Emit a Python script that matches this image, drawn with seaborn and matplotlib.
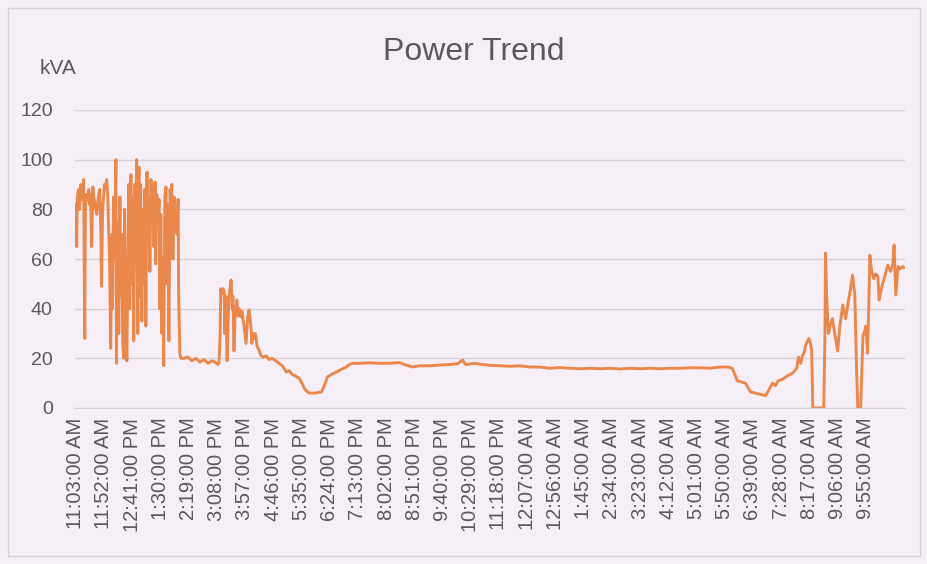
import matplotlib
matplotlib.use("Agg")
import matplotlib.pyplot as plt
import seaborn as sns
import pandas as pd
from matplotlib.patches import Rectangle

# minutes after 11:03:00 AM, and the apparent power read at that minute
minutes = [
    0, 2, 3, 5, 7, 9, 10, 12, 14, 16, 17, 19, 21, 23, 24, 26, 28, 30, 31, 33,
    35, 37, 38, 40, 42, 44, 45, 47, 49, 50, 52, 54, 56, 57, 59, 61, 63, 64, 66, 68,
    70, 71, 73, 75, 77, 78, 80, 82, 84, 85, 87, 89, 91, 92, 94, 96, 97, 99, 101, 103,
    104, 106, 108, 110, 111, 113, 115, 117, 118, 120, 122, 124, 125, 127, 129, 131, 132, 134, 136, 138,
    139, 141, 143, 145, 146, 148, 150, 151, 153, 155, 157, 158, 160, 162, 164, 165, 167, 169, 171, 172,
    174, 176, 178, 179, 181, 183,
    188, 195, 202, 209, 216, 223, 230, 237, 242, 247, 249,
    251, 252, 254, 256, 258, 259, 261, 263, 265, 266, 268, 270, 272, 273, 275, 277, 279, 280, 282, 284,
    286, 287, 289, 291, 292, 294, 296, 298, 299, 301, 303, 305, 306, 308, 310, 312, 313, 315, 319, 322,
    326, 331, 336, 341, 348, 353, 359, 366, 371, 376, 381, 388, 393, 397, 400, 406, 416, 427, 432, 437,
    444, 453, 461, 470, 475, 481, 493, 510, 528, 545, 562, 571, 585, 597, 615, 632, 649, 663, 672, 677,
    693, 707, 719, 736, 754, 771, 789, 806, 823, 841, 858, 876, 893, 911, 928, 945, 963, 980, 998, 1015,
    1032, 1050, 1067, 1085, 1102, 1119, 1133, 1140, 1149, 1156, 1163, 1168, 1172, 1180, 1189, 1198, 1203, 1210, 1215, 1220,
    1227, 1236, 1241, 1247, 1252, 1255, 1259, 1262, 1266, 1267, 1271, 1273, 1276, 1278, 1280, 1290, 1299, 1301, 1302, 1304,
    1307, 1311, 1314, 1318, 1321, 1323, 1327, 1332, 1335, 1337, 1341, 1344, 1349, 1353, 1354, 1356, 1358, 1363, 1365, 1367,
    1370, 1372, 1375, 1377, 1379, 1382, 1386, 1389, 1393, 1395, 1398, 1401, 1405, 1410, 1415, 1419, 1421, 1424, 1428, 1431,
    1436, 1438,
]
kva = [
    82, 65, 85, 88, 80, 90, 84, 87, 92, 28, 80, 86, 84, 88, 82, 86, 65, 89, 86, 83,
    80, 78, 82, 86, 88, 70, 49, 80, 86, 90, 88, 92, 85, 75, 60, 24, 70, 40, 85, 60,
    100, 18, 75, 30, 85, 45, 70, 25, 20, 80, 35, 19, 60, 90, 40, 94, 50, 85, 27, 90,
    60, 100, 30, 97, 45, 90, 35, 80, 50, 88, 33, 95, 70, 85, 55, 92, 80, 88, 65, 91,
    58, 86, 75, 84, 40, 78, 30, 60, 17, 85, 89, 50, 82, 27, 88, 84, 90, 60, 85, 75,
    81, 70, 84, 45, 22, 20,
    20, 20.5, 19, 20, 18.5, 19.5, 18, 19, 18.5, 17.5, 18,
    30, 48, 46, 48, 47, 30, 45, 19, 35, 44, 48, 51.5, 40, 45, 23, 38, 42, 43.5, 37, 40,
    38, 36.7, 39, 35, 34, 30, 26, 33, 37, 39.5, 36, 31, 26, 30, 28, 30, 28.6, 25, 23, 21,
    20.5, 21, 19.5, 20, 19, 18, 17, 14.5, 15, 13.5, 13, 12, 10, 8, 7, 6, 6, 6.5, 9, 12.5,
    13.5, 14.5, 15.5, 16.5, 17.5, 18, 18, 18.2, 18, 18, 18.3, 17.5, 16.5, 17, 17, 17.3, 17.5, 17.8, 19.3, 17.5,
    18, 17.5, 17.2, 17, 16.8, 17, 16.5, 16.5, 16, 16.3, 16, 15.8, 16, 15.8, 16, 15.7, 16, 15.8, 16, 15.8,
    16, 16, 16.2, 16.2, 16, 16.5, 16.5, 16, 11, 10.5, 10, 8, 6.5, 6, 5.5, 5, 7, 10, 9, 11,
    11.5, 13, 13.5, 14.5, 16, 20.5, 18, 21, 23, 25, 27, 28, 26, 23, 0, 0, 0, 30, 62.4, 45,
    30, 34, 36, 30, 26, 23, 33, 41.5, 38, 36, 42, 46, 53.5, 45, 34, 15, 0, 0, 15, 29,
    31, 33, 22, 40, 61.5, 55, 52, 54, 53, 43.5, 47, 50, 53, 57.5, 55, 58, 65.6, 45.5, 57, 56,
    57, 56.5,
]

tick_minutes = [49 * i for i in range(29)]
tick_labels = [
    "11:03:00 AM", "11:52:00 AM", "12:41:00 PM", "1:30:00 PM", "2:19:00 PM",
    "3:08:00 PM", "3:57:00 PM", "4:46:00 PM", "5:35:00 PM", "6:24:00 PM",
    "7:13:00 PM", "8:02:00 PM", "8:51:00 PM", "9:40:00 PM", "10:29:00 PM",
    "11:18:00 PM", "12:07:00 AM", "12:56:00 AM", "1:45:00 AM", "2:34:00 AM",
    "3:23:00 AM", "4:12:00 AM", "5:01:00 AM", "5:50:00 AM", "6:39:00 AM",
    "7:28:00 AM", "8:17:00 AM", "9:06:00 AM", "9:55:00 AM",
]
y_ticks = [0, 20, 40, 60, 80, 100, 120]

df = pd.DataFrame({"minute": minutes, "kVA": kva})

sns.set_style("white")
plt.rcParams["font.family"] = ["Liberation Sans", "DejaVu Sans"]

bg = "#f6eff7"
text_grey = "#595959"

fig = plt.figure(figsize=(9.28, 5.64), dpi=100, facecolor=bg)
ax = fig.add_axes([75 / 928, 1 - 408 / 564, 830 / 928, 298 / 564])
ax.set_facecolor(bg)

# faint chart border like the excel chart area
fig.patches.append(Rectangle((8 / 928, 8 / 564), 912 / 928, 548 / 564,
                             transform=fig.transFigure, fill=False,
                             edgecolor="#d6d0d8", linewidth=1))

sns.lineplot(data=df, x="minute", y="kVA", ax=ax, color="#ea884c",
             linewidth=2.1, estimator=None, sort=False)

ax.set_xlim(-1, 1440)
ax.set_ylim(0, 120)
ax.set_yticks(y_ticks)
ax.set_yticklabels([str(v) for v in y_ticks])
ax.set_xticks(tick_minutes)
ax.set_xticklabels(tick_labels, rotation=90, ha="center", va="top")
ax.tick_params(axis="y", length=0, pad=16, labelsize=14, labelcolor=text_grey)
ax.tick_params(axis="x", length=0, pad=7, labelsize=14.5, labelcolor=text_grey)
ax.yaxis.grid(True, color="#d6d1d8", linewidth=1)
ax.xaxis.grid(False)
for side in ["top", "right", "left"]:
    ax.spines[side].set_visible(False)
ax.spines["bottom"].set_color("#d6d1d8")
ax.set_xlabel("")
ax.set_ylabel("")

fig.text(474 / 928, 1 - 52 / 564, "Power Trend", ha="center", va="center",
         fontsize=23, color=text_grey)
fig.text(58 / 928, 1 - 68 / 564, "kVA", ha="center", va="center",
         fontsize=15, color=text_grey)

fig.savefig("out.png", dpi=100, facecolor=bg)
